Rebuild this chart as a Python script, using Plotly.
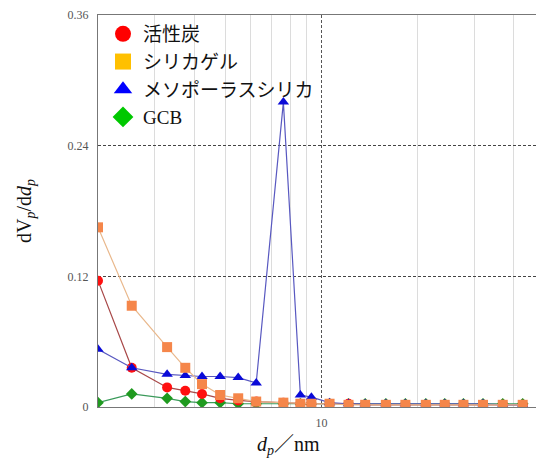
import math
import plotly.graph_objects as go

dp = [2.0, 2.55, 3.29, 3.75, 4.23, 4.82, 5.49, 6.25, 7.6, 8.59, 9.3, 10.6,
      12.15, 13.7, 15.9, 18.3, 21.2, 24.3, 27.8, 32.0, 36.9, 42.6]

activated_carbon = [0.116, 0.036, 0.018, 0.015, 0.012, 0.008, 0.006, 0.005, 0.004, 0.003, 0.003,
                    0.003, 0.003, 0.002, 0.002, 0.002, 0.002, 0.002, 0.002, 0.002, 0.002, 0.002]
silica_gel = [0.165, 0.093, 0.055, 0.036, 0.021, 0.011, 0.008, 0.005, 0.004, 0.003, 0.003,
              0.003, 0.002, 0.002, 0.002, 0.002, 0.002, 0.002, 0.002, 0.002, 0.002, 0.002]
mesoporous_silica = [0.053, 0.036, 0.030, 0.029, 0.028, 0.028, 0.027, 0.022, 0.280, 0.011, 0.009,
                     0.004, 0.003, 0.003, 0.003, 0.003, 0.003, 0.003, 0.003, 0.003, 0.002, 0.002]
gcb = [0.004, 0.012, 0.008, 0.005, 0.004, 0.004, 0.003, 0.003, 0.003, 0.003, 0.003,
       0.003, 0.003, 0.003, 0.003, 0.003, 0.003, 0.003, 0.003, 0.003, 0.003, 0.003]

names = ["活性炭", "シリカゲル", "メソポーラスシリカ", "GCB"]
y_ticks = [0, 0.12, 0.24, 0.36]
y_tick_text = ["0", "0.12", "0.24", "0.36"]
x_ticks = [10]
x_minor = [3, 4, 5, 6, 7, 8, 9, 20, 30, 40]

fig = go.Figure()

# plotted series (drawing order: green, red, blue, orange)
series = [
    (gcb, "diamond", "#1f9a1f", "#3a9a5a", 9),
    (activated_carbon, "circle", "#ff1010", "#a84848", 10),
    (mesoporous_silica, "triangle-up", "#0a0ad8", "#5858c0", 10),
    (silica_gel, "square", "#f5864a", "#e9b88c", 10),
]
for vals, sym, mcol, lcol, sz in series:
    fig.add_trace(go.Scatter(
        x=dp, y=vals, mode="lines+markers", showlegend=False,
        line=dict(color=lcol, width=1.2),
        marker=dict(symbol=sym, color=mcol, size=sz, line=dict(width=0)),
    ))

# legend-only entries
legend_items = [
    (names[0], "circle", "#ff0000"),
    (names[1], "square", "#ffc000"),
    (names[2], "triangle-up", "#0000ff"),
    (names[3], "diamond", "#00c800"),
]
for nm, sym, col in legend_items:
    fig.add_trace(go.Scatter(
        x=[None], y=[None], mode="markers", name=nm,
        marker=dict(symbol=sym, color=col, size=18),
    ))

fig.update_layout(
    width=536, height=459,
    margin=dict(l=98, r=0, t=15, b=52),
    paper_bgcolor="white", plot_bgcolor="white",
    font=dict(family="Liberation Serif, Noto Sans CJK JP, serif", color="#222"),
    legend=dict(
        x=5 / 438, y=1.0, xanchor="left", yanchor="top",
        bgcolor="rgba(0,0,0,0)", borderwidth=0,
        font=dict(size=19, family="Liberation Serif, Noto Sans CJK JP", color="#111"),
        itemsizing="trace", tracegroupgap=0,
    ),
    xaxis=dict(
        type="log", range=[math.log10(2), 1.671],
        tickvals=x_ticks, ticktext=["10"], ticks="",
        ticklabelstandoff=5,
        tickfont=dict(size=12, color="#555", family="Liberation Serif"),
        showline=True, linecolor="#777", linewidth=1, mirror=True,
        showgrid=True, gridcolor="#555", gridwidth=1, griddash="3px,2px",
        minor=dict(tickvals=x_minor, showgrid=True, gridcolor="#dcdcdc", gridwidth=1,
                   griddash="solid", ticks=""),
        zeroline=False,
    ),
    yaxis=dict(
        range=[0, 0.36], tickvals=y_ticks, ticktext=y_tick_text, ticks="",
        tickfont=dict(size=12, color="#555", family="Liberation Serif"),
        ticklabelstandoff=6,
        showline=True, linecolor="#777", linewidth=1, mirror=True,
        showgrid=True, gridcolor="#444", gridwidth=1, griddash="3px,2px",
        zeroline=False,
        title=dict(text="dV<sub><i>p</i></sub>/d<i>d<sub>p</sub></i>",
                   font=dict(size=20, family="Liberation Serif", color="#111"), standoff=30),
    ),
    annotations=[dict(
        text="<i>d<sub>p</sub></i>／nm", xref="paper", yref="paper",
        x=(288 - 98) / 438, y=-0.097, xanchor="center", yanchor="middle",
        showarrow=False, font=dict(size=20, family="Liberation Serif, Noto Sans CJK JP", color="#111"),
    )],
)

fig.write_html("out.html")
